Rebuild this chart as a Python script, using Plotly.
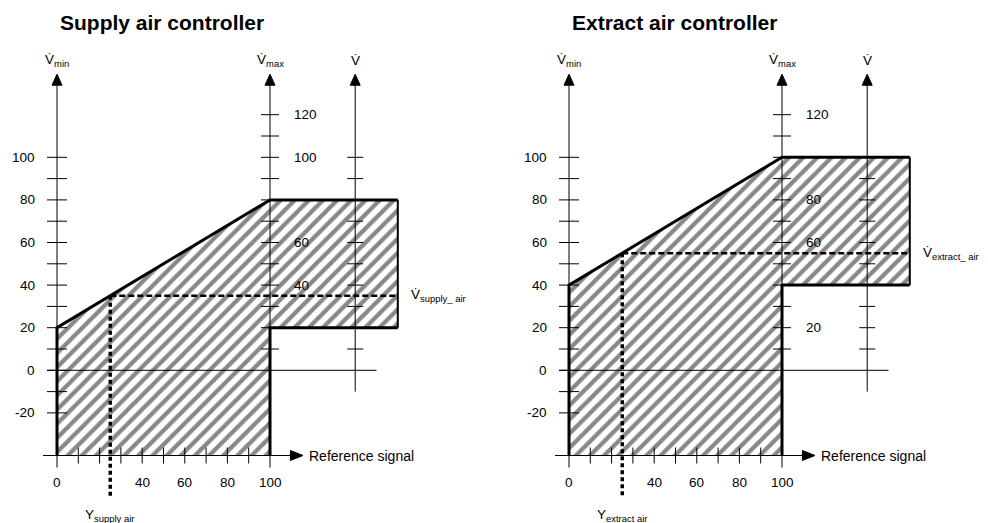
import plotly.graph_objects as go

# ---- values (percent) -------------------------------------------------------
controllers = ["Supply air controller", "Extract air controller"]
vmin_setting = [20, 40]            # V̇min at reference signal 0 %
vmax_setting = [80, 100]           # V̇max at reference signal 100 %
operating_signal = [25, 25]        # Y
operating_flow = [35, 55]          # resulting V̇
flow_names = ["supply_ air", "extract_ air"]
signal_names = ["supply air", "extract air"]

ref_tick_values = list(range(0, 101, 10))
ref_tick_labels = [0, 40, 60, 80, 100]
vmin_tick_values = list(range(-20, 101, 10))
vmin_tick_labels = [-20, 0, 20, 40, 60, 80, 100]
vmax_tick_values = list(range(10, 121, 10))
vmax_tick_labels = [[120, 100, 60, 40], [120, 80, 60, 20]]
v_tick_values = list(range(10, 101, 10))

# ---- geometry of the diagram (in axis units) --------------------------------
X_VMIN, X_VMAX, X_V = 0, 100, 140   # positions of the three vertical scales
X_BOX = 160                          # right edge of the V̇ range box
Y_BASE = -40                         # level of the reference-signal axis
Y_TOP = 139                          # tip of the vertical arrows
X_REF_TIP = 115.5                    # tip of the reference-signal arrow
PX = 2.13                            # pixels per unit
ARROW_LEN, ARROW_HALF = 11 / PX, 5 / PX

FONT = "Liberation Sans, Arial, sans-serif"
W, H = 988, 523
LEFT_ORIGIN = [57, 569]              # pixel position of reference 0 in each panel
Y_ORIGIN = 370.3

fig = go.Figure()
annotations = []


def seg_trace(xs, ys, xa, width=1, dash=None, color="black"):
    fig.add_trace(go.Scatter(x=xs, y=ys, xaxis=xa, yaxis="y", mode="lines",
                             line=dict(color=color, width=width, dash=dash),
                             hoverinfo="skip", showlegend=False))


def segments(pairs):
    xs, ys = [], []
    for (x0, y0), (x1, y1) in pairs:
        xs += [x0, x1, None]
        ys += [y0, y1, None]
    return xs, ys


def label(xa, x, y, text, size=13.5, xanchor="center", yanchor="middle"):
    annotations.append(dict(xref=xa, yref="y", x=x, y=y, text=text, showarrow=False,
                            xanchor=xanchor, yanchor=yanchor,
                            font=dict(family=FONT, size=size, color="black")))


for i in range(2):
    xa = "x" if i == 0 else "x2"
    vmin, vmax = vmin_setting[i], vmax_setting[i]
    ys_, fl = operating_signal[i], operating_flow[i]

    # hatched operating range
    fig.add_trace(go.Scatter(
        x=[0, 0, 100, X_BOX, X_BOX, 100, 100, 0],
        y=[Y_BASE, vmin, vmax, vmax, vmin, vmin, Y_BASE, Y_BASE],
        xaxis=xa, yaxis="y", mode="lines", fill="toself",
        line=dict(width=0, color="rgba(0,0,0,0)"),
        fillcolor="white",
        fillpattern=dict(shape="/", size=10, solidity=0.42, fgcolor="#111111", bgcolor="white"),
        hoverinfo="skip", showlegend=False))

    # thin axis lines
    xs, ys = segments([
        ((X_VMIN, Y_BASE - 12 / PX), (X_VMIN, Y_TOP - ARROW_LEN)),
        ((X_VMAX, Y_BASE - 12 / PX), (X_VMAX, Y_TOP - ARROW_LEN)),
        ((X_V, -10), (X_V, Y_TOP - ARROW_LEN)),
        ((-10 / PX, 0), (X_V + 10, 0)),
        ((-14 / PX, Y_BASE), (X_REF_TIP - ARROW_LEN * 1.15, Y_BASE)),
    ])
    seg_trace(xs, ys, xa, width=1)

    # tick marks
    pairs = []
    pairs += [((X_VMIN - 10 / PX, v), (X_VMIN + 10 / PX, v)) for v in vmin_tick_values]
    pairs += [((X_VMAX - 9 / PX, v), (X_VMAX + 9 / PX, v)) for v in vmax_tick_values]
    pairs += [((X_V - 8 / PX, v), (X_V + 8 / PX, v)) for v in v_tick_values]
    pairs += [((r, Y_BASE - 8 / PX), (r, Y_BASE + 8 / PX)) for r in ref_tick_values if 0 < r < 100]
    xs, ys = segments(pairs)
    seg_trace(xs, ys, xa, width=1)

    # arrowheads
    for xv in (X_VMIN, X_VMAX, X_V):
        fig.add_trace(go.Scatter(
            x=[xv - ARROW_HALF, xv + ARROW_HALF, xv, xv - ARROW_HALF],
            y=[Y_TOP - ARROW_LEN, Y_TOP - ARROW_LEN, Y_TOP, Y_TOP - ARROW_LEN],
            xaxis=xa, yaxis="y", mode="lines", fill="toself", fillcolor="black",
            line=dict(color="black", width=1), hoverinfo="skip", showlegend=False))
    L = ARROW_LEN * 1.15
    fig.add_trace(go.Scatter(
        x=[X_REF_TIP - L, X_REF_TIP - L, X_REF_TIP, X_REF_TIP - L],
        y=[Y_BASE - ARROW_HALF, Y_BASE + ARROW_HALF, Y_BASE, Y_BASE - ARROW_HALF],
        xaxis=xa, yaxis="y", mode="lines", fill="toself", fillcolor="black",
        line=dict(color="black", width=1), hoverinfo="skip", showlegend=False))

    # bold limits of the operating range
    seg_trace([0, 0, 100, X_BOX], [Y_BASE, vmin, vmax, vmax], xa, width=3)
    seg_trace([100, 100, X_BOX], [Y_BASE, vmin, vmin], xa, width=3)
    seg_trace([X_BOX, X_BOX], [vmax, vmin], xa, width=2)

    # operating point
    seg_trace([ys_, X_BOX], [fl, fl], xa, width=2.5, dash="6px,3px")
    seg_trace([ys_, ys_], [fl, Y_BASE - 20], xa, width=3.5, dash="4px,3px")

    # tick labels
    for v in vmin_tick_labels:
        label(xa, X_VMIN - 20 / PX, v, str(v), xanchor="right")
    for v in vmax_tick_labels[i]:
        label(xa, X_VMAX + 22 / PX, v, str(v), xanchor="left")
    for r in ref_tick_labels:
        label(xa, r, Y_BASE - 27 / PX, str(r))
    label(xa, X_REF_TIP + 4 / PX, Y_BASE, "Reference signal", size=14, xanchor="left")

    # scale names
    label(xa, X_VMIN, Y_TOP + 14 / PX, "V\u0307<sub>min</sub>", size=13.5)
    label(xa, X_VMAX, Y_TOP + 14 / PX, "V\u0307<sub>max</sub>", size=13.5)
    label(xa, X_V, Y_TOP + 14 / PX, "V\u0307", size=13.5)
    label(xa, X_BOX + 11 / PX, fl, "V\u0307<sub>" + flow_names[i] + "</sub>", size=13.5, xanchor="left")
    label(xa, ys_ - 27 / PX, Y_BASE - 60 / PX, "Y<sub>" + signal_names[i] + "</sub>", size=13.5, xanchor="left")

    # panel title
    annotations.append(dict(xref="paper", yref="paper", x=(LEFT_ORIGIN[i] + 1) / W, y=1 - 22.5 / H,
                            text="<b>" + controllers[i] + "</b>", showarrow=False,
                            xanchor="left", yanchor="middle",
                            font=dict(family=FONT, size=21, color="black")))

half = W / 2
fig.update_layout(
    width=W, height=H, margin=dict(l=0, r=0, t=0, b=0),
    paper_bgcolor="white", plot_bgcolor="white",
    xaxis=dict(domain=[0, 0.5], range=[-LEFT_ORIGIN[0] / PX, (half - LEFT_ORIGIN[0]) / PX],
               visible=False, anchor="y"),
    xaxis2=dict(domain=[0.5, 1], range=[-(LEFT_ORIGIN[1] - half) / PX, (W - LEFT_ORIGIN[1]) / PX],
                visible=False, anchor="y"),
    yaxis=dict(domain=[0, 1], range=[(Y_ORIGIN - H) / PX, Y_ORIGIN / PX], visible=False),
    annotations=annotations,
)

fig.write_html("out.html")
